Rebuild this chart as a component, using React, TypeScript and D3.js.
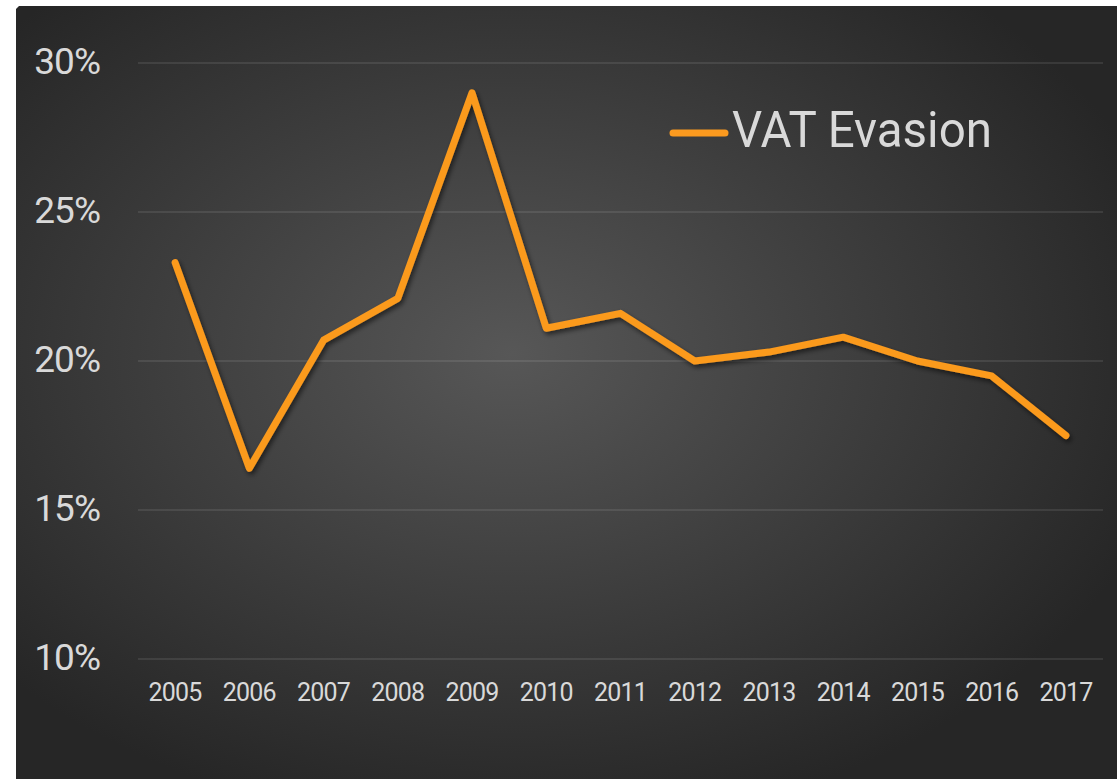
import React from "react";
import * as d3 from "d3";

const years: string[] = ["2005","2006","2007","2008","2009","2010","2011","2012","2013","2014","2015","2016","2017"];
const vatEvasion: number[] = [23.3, 16.4, 20.7, 22.1, 29.0, 21.1, 21.6, 20.0, 20.3, 20.8, 20.0, 19.5, 17.5];
const yTicks: number[] = [10, 15, 20, 25, 30];
const seriesName = "VAT Evasion";

const W = 1117;
const H = 779;

export default function App() {
  const x = d3.scaleBand<string>().domain(years).range([138, 1103]);
  const y = d3.scaleLinear().domain([10, 30]).range([659, 63]);
  const line = d3
    .line<number>()
    .x((_, i) => (x(years[i]) as number) + x.bandwidth() / 2)
    .y((d) => y(d));
  const font = "Roboto, 'Open Sans', sans-serif";
  const textColor = "#d9d9d9";
  return (
    <svg
      width={W}
      height={H}
      style={{ position: "absolute", left: 0, top: 0, display: "block" }}
    >
      <defs>
        <radialGradient id="bg" cx="0.45" cy="0.45" r="0.62" fx="0.45" fy="0.45">
          <stop offset="0" stopColor="#575757" />
          <stop offset="0.55" stopColor="#3c3c3c" />
          <stop offset="1" stopColor="#262626" />
        </radialGradient>
        <filter id="shadow" x="-10%" y="-10%" width="120%" height="130%">
          <feGaussianBlur in="SourceAlpha" stdDeviation="2.5" />
          <feOffset dx="2" dy="3" result="b" />
          <feComponentTransfer>
            <feFuncA type="linear" slope="0.55" />
          </feComponentTransfer>
          <feMerge>
            <feMergeNode />
            <feMergeNode in="SourceGraphic" />
          </feMerge>
        </filter>
      </defs>
      <rect x={0} y={0} width={W} height={H} fill="#ffffff" />
      <path d={`M19,6 H${W} V${H} H16 V9 Z`} fill="url(#bg)" />
      {yTicks.map((t) => (
        <g key={t}>
          <line
            x1={138}
            x2={1103}
            y1={y(t)}
            y2={y(t)}
            stroke="#ffffff"
            strokeOpacity={0.12}
            strokeWidth={1.5}
          />
          <text
            x={100}
            y={y(t) + 11}
            textAnchor="end"
            fontFamily={font}
            fontSize={37}
            fill={textColor}
            letterSpacing={-1}
          >
            {t}%
          </text>
        </g>
      ))}
      {years.map((yr) => (
        <text
          key={yr}
          x={(x(yr) as number) + x.bandwidth() / 2}
          y={701}
          textAnchor="middle"
          fontFamily={font}
          fontSize={25}
          fill={textColor}
          letterSpacing={-0.8}
        >
          {yr}
        </text>
      ))}
      <path
        d={line(vatEvasion) || ""}
        fill="none"
        stroke="#fb9a1f"
        strokeWidth={7}
        strokeLinejoin="round"
        strokeLinecap="round"
        filter="url(#shadow)"
      />
      <line
        x1={673}
        x2={725}
        y1={133}
        y2={133}
        stroke="#fb9a1f"
        strokeWidth={7}
        strokeLinecap="round"
      />
      <text
        x={732}
        y={147}
        fontFamily={font}
        fontSize={50}
        fill={textColor}
        textLength={260}
        lengthAdjust="spacingAndGlyphs"
      >
        {seriesName}
      </text>
    </svg>
  );
}
